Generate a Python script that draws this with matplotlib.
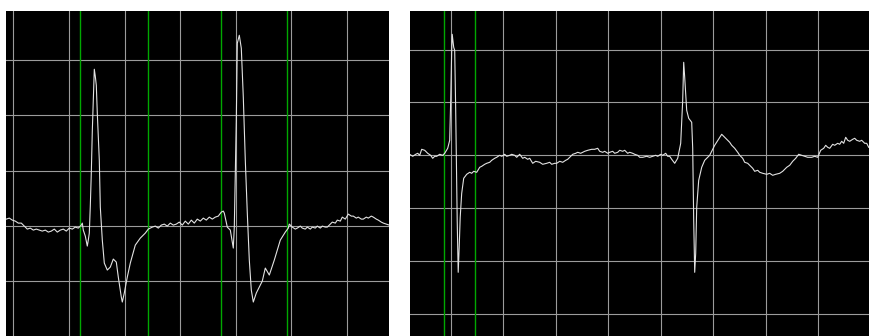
import numpy as np
import matplotlib
matplotlib.use('Agg')
import matplotlib.pyplot as plt

# left strip: sample index / amplitude (grid cell = 55.6 samples x 55.4 units)
left_s = [-7, -4, -1, 2, 5, 8, 11, 14, 17, 20, 23, 26, 29, 32, 35, 38, 41, 44,
          47, 50, 53, 56, 59, 62, 65, 68, 69, 70, 72, 74, 75, 76, 77, 78, 79,
          80, 81, 82, 83, 84, 86, 87, 89, 91, 94, 97, 100, 103, 105, 108, 109,
          111, 114, 117, 122, 127, 132, 135,
          139, 142, 145, 148, 151, 154, 157, 160, 163, 166, 169, 172, 175, 178,
          181, 184, 187, 190, 193, 196, 199, 202, 205, 208, 210, 211, 214, 217,
          220, 221, 223, 224, 226, 228, 230, 232, 234, 236, 238, 240, 243, 246,
          249, 252, 256, 261, 267, 272, 275, 276,
          279, 282, 284, 287, 289, 292, 294, 297, 299, 302, 304, 307, 309, 312,
          314, 317, 319, 322, 324, 327, 329, 332, 335, 338, 340, 343, 345, 348,
          350, 353, 355, 358, 360, 363, 365, 368, 370, 373, 376]
left_a = [7, 8, 6, 5, 3, 3, 0, -3, -2, -4, -3, -4, -5, -4, -6, -5, -3, -6,
          -4, -3, -5, -2, -3, -1, -2, 1, 3, -4, -10, -20, -14, -7, 20, 53, 95,
          126, 157, 150, 141, 113, 66, 19, -14, -37, -44, -41, -33, -36, -51, -71, -76,
          -67, -51, -37, -19, -12, -7, -3,
          -1, 0, -2, 1, 2, 0, 3, 1, 2, 4, 1, 5, 2, 6,
          3, 7, 5, 8, 6, 9, 7, 9, 10, 14, 15, 13, -1, -4,
          -22, -1, 106, 183, 191, 178, 129, 66, 13, -34, -64, -76, -67, -61,
          -55, -42, -49, -34, -14, -6, -2, 2,
          -1, -3, -2, 0, -2, -3, -1, -3, -1, -2, 0, -2, 0, -1,
          -1, 2, 4, 3, 6, 5, 9, 7, 12, 10, 10, 8, 9, 7,
          7, 9, 8, 10, 9, 7, 6, 4, 3, 2, 1]
left_markers = [66.7, 134.7, 208, 273.7]

# right strip: sample index / amplitude (grid cell = 52.5 samples x 52.9 units)
right_s = [-41, -38, -35, -33, -31, -29, -26, -23, -20, -18, -16, -14, -11, -8,
           -6, -3, -1, 0, 1, 1.5, 3, 4, 5, 6, 6.5, 7.5, 8.5, 9.5, 11, 13, 16,
           19, 21, 23, 26, 29, 31, 34, 36, 39, 41, 44, 46, 49, 51, 54, 56, 59,
           61, 64, 66, 69, 72, 74, 77, 79, 82, 85, 89, 92, 96, 99, 101, 104,
           106, 109, 112, 115, 117, 120, 122, 125, 127, 130, 134, 137, 141, 144,
           147, 149, 152, 154, 157, 159, 162, 164, 167, 169, 172, 174, 177, 179,
           182, 184, 187, 189, 192, 196, 199, 202, 205, 207, 210, 212, 215, 217,
           219, 221, 224, 227, 230, 232, 233, 234, 236, 238, 241, 242, 243, 244,
           245, 246, 248, 251, 254, 259, 264, 269, 271, 274, 276, 279, 281, 284,
           287, 289, 292, 294, 297, 299, 302, 304, 307, 309, 312, 316, 319, 322,
           325, 329, 332, 336, 339, 342, 345, 348, 351, 354, 357, 361, 364, 367,
           370, 373, 375, 377, 379, 382, 384, 387, 389, 391, 393, 395, 397, 399,
           402, 404, 406, 409, 411, 414, 416, 418]
right_a = [1, -1, 1, 2, 0, 6, 5, 2, 0, -3, -1, -1, 1, 0,
           2, 7, 15, 55, 105, 121, 108, 105, 45, -25, -65, -117, -92, -62, -38, -23, -19,
           -17, -18, -16, -17, -12, -11, -9, -8, -7, -5, -3, -2, 0, -1, 1, -1, 0,
           1, 0, -2, 1, -3, -2, -4, -3, -8, -6, -7, -9, -8, -7, -9, -8,
           -8, -6, -7, -5, -4, -1, 1, 2, 3, 2, 4, 5, 6, 6,
           7, 4, 3, 4, 2, 3, 4, 2, 3, 5, 4, 5, 2, 3,
           2, 1, 0, -2, -2, -1, -2, -1, 0, -1, 1, 0, 2, -1,
           -1, -4, -8, -3, 12, 55, 93, 78, 45, 37, 33, 7, -65, -117,
           -98, -52, -25, -12, -5, 0, 10, 18, 21, 18, 16, 13, 10, 7,
           3, 0, -3, -7, -8, -10, -13, -16, -15, -17, -18, -19, -18, -20,
           -19, -18, -16, -12, -10, -6, -3, 1, 0, -1, -2, -2, -1, -2,
           5, 7, 10, 8, 7, 11, 10, 12, 11, 14, 12, 18, 15, 14,
           16, 17, 15, 14, 15, 12, 12, 8]
right_markers = [-6.4, 24.0]

fig = plt.figure(figsize=(8.69, 3.36), dpi=100)
fig.patch.set_facecolor('white')


def strip(rect, s, a, xlim, ylim, xstep, ystep, markers):
    ax = fig.add_axes(rect)
    ax.set_facecolor('black')
    ax.set_xlim(*xlim)
    ax.set_ylim(*ylim)
    xt = np.arange(np.ceil(xlim[0] / xstep), xlim[1] / xstep + 1e-9) * xstep
    yt = np.arange(np.ceil(ylim[0] / ystep), ylim[1] / ystep + 1e-9) * ystep
    for x in xt:
        ax.axvline(x, color='#9c9c9c', lw=0.8, zorder=1)
    for y in yt:
        ax.axhline(y, color='#9c9c9c', lw=0.8, zorder=1)
    for m in markers:
        ax.axvline(m, color='#00a800', lw=1.0, zorder=2)
    ax.plot(s, a, color='#e2e2e2', lw=0.8, zorder=3)
    ax.set_xticks([])
    ax.set_yticks([])
    for sp in ax.spines.values():
        sp.set_visible(False)
    return ax


strip([6/869, 0, 383/869, 325/336], left_s, left_a,
      (-7.3, 375.7), (-110.0, 215.3), 55.6, 55.4, left_markers)
strip([410/869, 0, 459/869, 325/336], right_s, right_a,
      (-40.7, 418.3), (-180.7, 144.3), 52.5, 52.9, right_markers)

fig.savefig('out.png', dpi=100, facecolor='white')
